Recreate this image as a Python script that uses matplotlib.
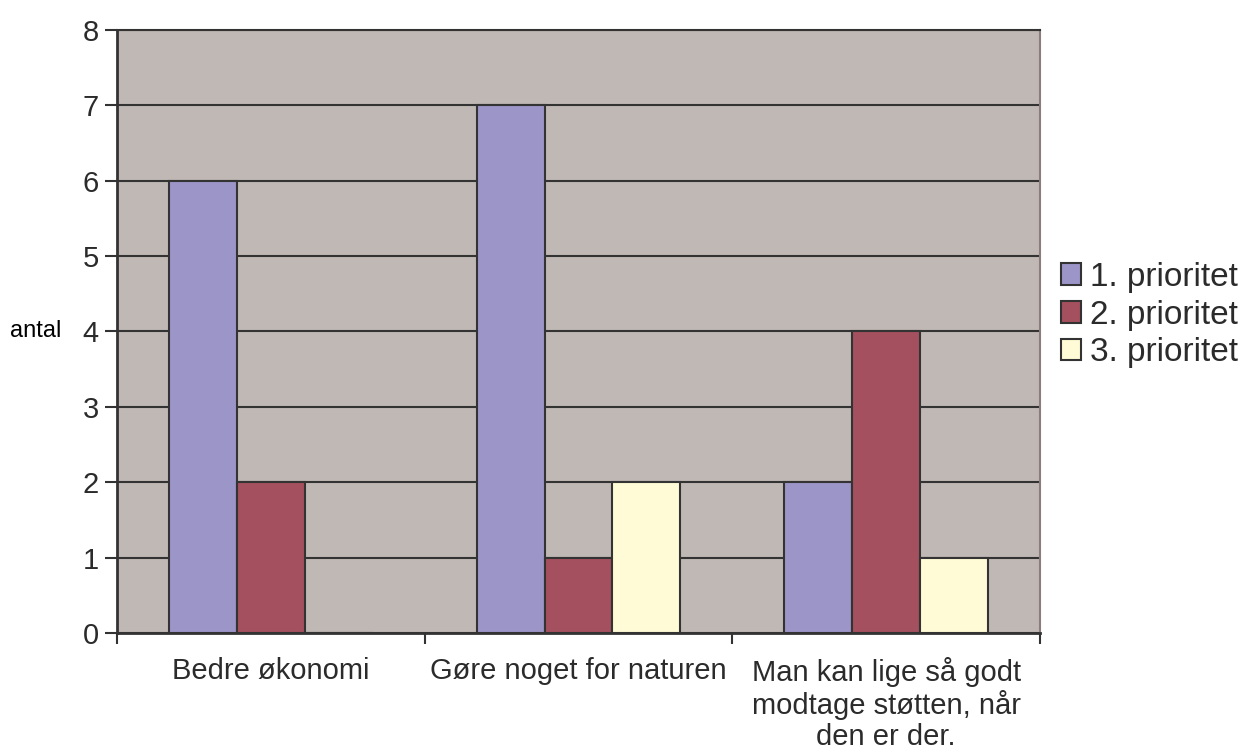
import numpy as np
import matplotlib.pyplot as plt
from matplotlib.patches import Patch

plt.rcParams['font.family'] = ['Liberation Sans', 'DejaVu Sans']
plt.rcParams['text.color'] = '#2b2b2b'
plt.rcParams['xtick.labelcolor'] = '#2b2b2b'
plt.rcParams['ytick.labelcolor'] = '#2b2b2b'

categories = ['Bedre økonomi', 'Gøre noget for naturen',
              'Man kan lige så godt\nmodtage støtten, når\nden er der.']
series = ['1. prioritet', '2. prioritet', '3. prioritet']
values = [
    [6, 7, 2],
    [2, 1, 4],
    [0, 2, 1],
]
colors = ['#9C95C8', '#A5505E', '#FFFBD6']

fig = plt.figure(figsize=(12.5, 7.49), dpi=100)
ax = fig.add_axes([0.0936, 0.1549, 0.7384, 0.8051])
ax.set_facecolor('#C0B8B4')

x = np.arange(len(categories))
w = 0.221
for i, (name, vals, c) in enumerate(zip(series, values, colors)):
    ax.bar(x + (i - 1) * w, vals, w, color=c, edgecolor='#333333',
           linewidth=1.5, zorder=3, label=name)

ax.set_xlim(-0.5, 2.5)
ax.set_ylim(0, 8)
ax.set_yticks(range(9))
ax.yaxis.grid(True, color='#333333', linewidth=1.5, zorder=1)
ax.tick_params(axis='y', labelsize=21, length=9, width=1.5, color='#333333', pad=4)

ax.set_xticks([-0.5, 0.5, 1.5, 2.5])
ax.set_xticklabels([])
ax.set_xticks(x, minor=True)
ax.set_xticklabels(categories, minor=True, fontsize=21, linespacing=1.15)
ax.tick_params(axis='x', which='major', length=8, width=1.5, color='#333333')
ax.tick_params(axis='x', which='minor', length=0, pad=17)

for side in ['left', 'bottom']:
    ax.spines[side].set_color('#333333')
    ax.spines[side].set_linewidth(2)
ax.spines['top'].set_color('#333333')
ax.spines['top'].set_linewidth(1.5)
ax.spines['right'].set_color('#8A7D7A')
ax.spines['right'].set_linewidth(1.5)

ax.set_ylabel('antal', fontsize=17, rotation=0, va='center', ha='left')
ax.yaxis.set_label_coords(-0.116, 0.5)

handles = [Patch(facecolor=c, edgecolor='#333333', linewidth=1.5) for c in colors]
ax.legend(handles, series, loc='center left', bbox_to_anchor=(1.0, 0.527),
          frameon=False, fontsize=24, handlelength=0.62, handleheight=0.62,
          handletextpad=0.25, labelspacing=0.2, borderpad=0, borderaxespad=0.62)

fig.savefig('out.png', dpi=100)
